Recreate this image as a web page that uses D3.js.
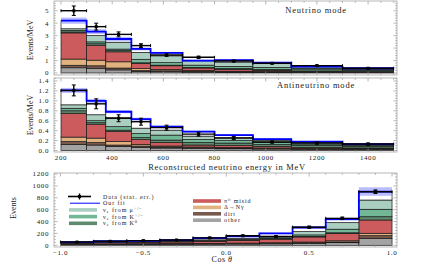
<!DOCTYPE html>
<html>
<head>
<meta charset="UTF-8">
<script src="https://cdn.jsdelivr.net/npm/d3@7/dist/d3.min.js"></script>
<style>
  body { margin: 0; background: #fff; }
  text { font-family: "Liberation Serif", "DejaVu Serif", serif; fill: #222; }
</style>
</head>
<body>
<div id="chart"></div>
<script>
// energy bins (MeV) and cos theta bins
const eBins = [200, 300, 375, 475, 550, 675, 800, 950, 1100, 1300, 1500];
const cosBins = [-1, -0.8, -0.6, -0.4, -0.2, 0, 0.2, 0.4, 0.6, 0.8, 1];

// neutrino mode, events/MeV
const nuOther = [0.42, 0.38, 0.25, 0.12, 0.10, 0.08, 0.06, 0.05, 0.04, 0.03];
const nuDirt  = [0.20, 0.20, 0.15, 0.08, 0.08, 0.06, 0.04, 0.03, 0.02, 0.02];
const nuDelta = [0.50, 0.45, 0.50, 0.15, 0.10, 0.06, 0.04, 0.03, 0.02, 0.01];
const nuPi0   = [2.10, 1.20, 0.80, 0.42, 0.30, 0.20, 0.15, 0.10, 0.06, 0.05];
const nuK0    = [0.08, 0.12, 0.10, 0.05, 0.05, 0.05, 0.07, 0.08, 0.12, 0.10];
const nuKpm   = [0.12, 0.15, 0.12, 0.28, 0.20, 0.18, 0.17, 0.16, 0.12, 0.08];
const nuMu    = [0.13, 0.50, 0.55, 0.55, 0.55, 0.35, 0.35, 0.30, 0.12, 0.07];
const nuFit   = [4.20, 3.32, 2.73, 1.93, 1.62, 1.00, 1.03, 0.83, 0.52, 0.38];
const nuFitErr = [0.25, 0.20, 0.18, 0.12, 0.08, 0.06, 0.05, 0.04, 0.03, 0.02];
const nuData  = [5.00, 3.72, 3.10, 2.20, 1.44, 1.26, 0.96, 0.78, 0.59, 0.38];
const nuDataErr = [0.38, 0.28, 0.20, 0.15, 0.10, 0.09, 0.07, 0.06, 0.05, 0.04];

// antineutrino mode, events/MeV
const antiOther = [0.12, 0.11, 0.08, 0.06, 0.05, 0.04, 0.035, 0.03, 0.025, 0.02];
const antiDirt  = [0.06, 0.05, 0.03, 0.03, 0.02, 0.02, 0.015, 0.01, 0.01, 0.01];
const antiDelta = [0.09, 0.09, 0.07, 0.03, 0.02, 0.01, 0.01, 0.01, 0.005, 0.005];
const antiPi0   = [0.48, 0.28, 0.20, 0.10, 0.07, 0.04, 0.04, 0.03, 0.02, 0.015];
const antiK0    = [0.05, 0.03, 0.03, 0.04, 0.05, 0.05, 0.05, 0.04, 0.04, 0.035];
const antiKpm   = [0.05, 0.04, 0.07, 0.08, 0.10, 0.06, 0.05, 0.04, 0.03, 0.02];
const antiMu    = [0.07, 0.12, 0.18, 0.11, 0.10, 0.07, 0.06, 0.04, 0.03, 0.02];
const antiFit   = [1.21, 1.00, 0.78, 0.63, 0.48, 0.38, 0.31, 0.23, 0.18, 0.13];
const antiFitErr = [0.05, 0.04, 0.03, 0.03, 0.02, 0.02, 0.015, 0.01, 0.01, 0.01];
const antiData  = [1.21, 0.94, 0.65, 0.58, 0.46, 0.33, 0.25, 0.17, 0.15, 0.13];
const antiDataErr = [0.11, 0.10, 0.07, 0.07, 0.05, 0.04, 0.03, 0.02, 0.02, 0.02];

// cos theta distribution, events
const cosOther = [15, 16, 17, 18, 20, 22, 25, 30, 44, 118];
const cosDirt  = [4, 5, 5, 6, 6, 7, 8, 10, 12, 44];
const cosDelta = [4, 4, 5, 5, 6, 8, 10, 15, 20, 40];
const cosPi0   = [16, 22, 25, 28, 35, 45, 60, 85, 120, 224];
const cosK0    = [3, 3, 4, 4, 5, 6, 8, 10, 15, 55];
const cosKpm   = [4, 5, 5, 6, 8, 10, 15, 25, 60, 125];
const cosMu    = [4, 5, 6, 8, 12, 17, 25, 55, 110, 156];
const cosFit   = [52, 68, 76, 86, 122, 150, 200, 300, 440, 905];
const cosFitErr = [4, 5, 5, 6, 8, 10, 12, 18, 25, 72];
const cosData  = [55, 67, 78, 89, 125, 160, 148, 305, 454, 902];
const cosDataErr = [7, 8, 9, 9, 11, 13, 12, 17, 21, 30];

// ticks
const eTicks = [200, 400, 600, 800, 1000, 1200, 1400];
const nuYTicks = [0, 1, 2, 3, 4, 5];
const antiYTicks = [0, 0.2, 0.4, 0.6, 0.8, 1.0, 1.2, 1.4];
const cosYTicks = [0, 200, 400, 600, 800, 1000, 1200];
const cosXTicks = [-1, -0.5, 0, 0.5, 1];

// stack order bottom -> top: other, dirt, delta, pi0, K0, K+-, mu+-
const compColors = ["#a3a3a3", "#7a5a4c", "#e2b27e", "#cc5b5d", "#5f8a6e", "#72b796", "#aacfc1"];

const W = 424, H = 271;
const svg = d3.select("#chart").append("svg")
    .attr("width", W).attr("height", H);

const fx0 = 54, fx1 = 397;

function drawPanel(o) {
    const x = d3.scaleLinear().domain(o.xDomain).range([fx0, fx1]);
    const y = d3.scaleLinear().domain(o.yDomain).range([o.y1, o.y0]);
    const g = svg.append("g");
    const n = o.bins.length - 1;

    // background stack
    const base = new Array(n).fill(0);
    o.comps.forEach((c, k) => {
        for (let i = 0; i < n; i++) {
            g.append("rect")
                .attr("x", x(o.bins[i])).attr("width", x(o.bins[i + 1]) - x(o.bins[i]))
                .attr("y", y(base[i] + c[i])).attr("height", y(base[i]) - y(base[i] + c[i]))
                .attr("fill", compColors[k]).attr("stroke", "#1a1a1a").attr("stroke-width", 0.7);
            base[i] += c[i];
        }
    });
    // signal on top of background
    for (let i = 0; i < n; i++) {
        if (o.fit[i] > base[i]) {
            g.append("rect")
                .attr("x", x(o.bins[i])).attr("width", x(o.bins[i + 1]) - x(o.bins[i]))
                .attr("y", y(o.fit[i])).attr("height", y(base[i]) - y(o.fit[i]))
                .attr("fill", "#fff").attr("stroke", "#1a1a1a").attr("stroke-width", 0.7);
        }
    }
    // fit band
    for (let i = 0; i < n; i++) {
        g.append("rect")
            .attr("x", x(o.bins[i])).attr("width", x(o.bins[i + 1]) - x(o.bins[i]))
            .attr("y", y(o.fit[i] + o.fitErr[i])).attr("height", y(o.fit[i] - o.fitErr[i]) - y(o.fit[i] + o.fitErr[i]))
            .attr("fill", "#7f86ff").attr("opacity", 0.55);
    }
    // fit step line
    const pts = [];
    for (let i = 0; i < n; i++) {
        pts.push([x(o.bins[i]), y(o.fit[i])], [x(o.bins[i + 1]), y(o.fit[i])]);
    }
    g.append("path").attr("d", d3.line()(pts))
        .attr("fill", "none").attr("stroke", "#0000ff").attr("stroke-width", 1.8);

    // data points
    for (let i = 0; i < n; i++) {
        const xa = x(o.bins[i]), xb = x(o.bins[i + 1]), xm = (xa + xb) / 2;
        const yv = y(o.data[i]), yt = y(o.data[i] + o.dataErr[i]), yb = y(o.data[i] - o.dataErr[i]);
        const dg = g.append("g").attr("stroke", "#000");
        dg.append("line").attr("x1", xa).attr("x2", xb).attr("y1", yv).attr("y2", yv).attr("stroke-width", 1.4);
        dg.append("line").attr("x1", xa).attr("x2", xa).attr("y1", yv - 1.5).attr("y2", yv + 1.5).attr("stroke-width", 1);
        dg.append("line").attr("x1", xb).attr("x2", xb).attr("y1", yv - 1.5).attr("y2", yv + 1.5).attr("stroke-width", 1);
        dg.append("line").attr("x1", xm).attr("x2", xm).attr("y1", yt).attr("y2", yb).attr("stroke-width", 1.4);
        dg.append("line").attr("x1", xm - 2).attr("x2", xm + 2).attr("y1", yt).attr("y2", yt).attr("stroke-width", 1);
        dg.append("line").attr("x1", xm - 2).attr("x2", xm + 2).attr("y1", yb).attr("y2", yb).attr("stroke-width", 1);
        dg.append("rect").attr("x", xm - 1.5).attr("y", yv - 1.5).attr("width", 3).attr("height", 3)
            .attr("fill", "#000").attr("stroke", "none");
    }

    // frame and ticks
    const fr = svg.append("g").attr("stroke", "#9a9a9a").attr("stroke-width", 0.7);
    fr.append("rect").attr("x", fx0).attr("y", o.y0).attr("width", fx1 - fx0).attr("height", o.y1 - o.y0)
        .attr("fill", "none");
    const xMinor = d3.range(o.xMinor[0], o.xMinor[1] + 1e-9, o.xMinor[2]);
    const yMinor = d3.range(o.yMinor[0], o.yMinor[1] + 1e-9, o.yMinor[2]);
    xMinor.forEach(v => {
        const major = o.xTicks.some(t => Math.abs(t - v) < 1e-6);
        const len = major ? 3.5 : 1.8;
        fr.append("line").attr("x1", x(v)).attr("x2", x(v)).attr("y1", o.y1).attr("y2", o.y1 - len);
        fr.append("line").attr("x1", x(v)).attr("x2", x(v)).attr("y1", o.y0).attr("y2", o.y0 + len);
    });
    yMinor.forEach(v => {
        const major = o.yTicks.some(t => Math.abs(t - v) < 1e-6);
        const len = major ? 3.5 : 1.8;
        fr.append("line").attr("x1", fx0).attr("x2", fx0 + len).attr("y1", y(v)).attr("y2", y(v));
        fr.append("line").attr("x1", fx1).attr("x2", fx1 - len).attr("y1", y(v)).attr("y2", y(v));
    });
    o.yTicks.forEach(v => {
        svg.append("text").attr("x", fx0 - 5).attr("y", y(v) + 2.4)
            .attr("text-anchor", "end").attr("font-size", 7).attr("letter-spacing", 0.6)
            .text(o.yFmt(v));
    });
    if (o.xLabels) {
        o.xTicks.forEach(v => {
            svg.append("text").attr("x", x(v)).attr("y", o.y1 + 7.5)
                .attr("text-anchor", "middle").attr("font-size", 7).attr("letter-spacing", 0.6)
                .text(o.xFmt(v));
        });
    }
    return { x, y };
}

drawPanel({
    y0: 1, y1: 75, xDomain: [172.6, 1513], yDomain: [-0.16, 5.78],
    bins: eBins, comps: [nuOther, nuDirt, nuDelta, nuPi0, nuK0, nuKpm, nuMu],
    fit: nuFit, fitErr: nuFitErr, data: nuData, dataErr: nuDataErr,
    xTicks: eTicks, xMinor: [200, 1500, 50], yTicks: nuYTicks, yMinor: [0, 5.6, 0.2],
    yFmt: d => d3.format("d")(d), xLabels: false
});
drawPanel({
    y0: 78, y1: 152, xDomain: [172.6, 1513], yDomain: [-0.03, 1.46],
    bins: eBins, comps: [antiOther, antiDirt, antiDelta, antiPi0, antiK0, antiKpm, antiMu],
    fit: antiFit, fitErr: antiFitErr, data: antiData, dataErr: antiDataErr,
    xTicks: eTicks, xMinor: [200, 1500, 50], yTicks: antiYTicks, yMinor: [0, 1.45, 0.05],
    yFmt: d => d3.format(".1f")(d), xLabels: true, xFmt: d => String(d)
});
drawPanel({
    y0: 173, y1: 247, xDomain: [-1.039, 1.03], yDomain: [-28.6, 1217],
    bins: cosBins, comps: [cosOther, cosDirt, cosDelta, cosPi0, cosK0, cosKpm, cosMu],
    fit: cosFit, fitErr: cosFitErr, data: cosData, dataErr: cosDataErr,
    xTicks: cosXTicks, xMinor: [-1, 1, 0.1], yTicks: cosYTicks, yMinor: [0, 1200, 50],
    yFmt: d => String(d), xLabels: true, xFmt: d => d3.format(".1f")(d).replace("-", "\u2212")
});

// panel titles and axis labels
svg.append("text").attr("x", 316).attr("y", 12.5).attr("text-anchor", "middle")
    .attr("font-size", 8.5).attr("letter-spacing", 0.8).text("Neutrino mode");
svg.append("text").attr("x", 316).attr("y", 88).attr("text-anchor", "middle")
    .attr("font-size", 8.5).attr("letter-spacing", 0.8).text("Antineutrino mode");
svg.append("text").attr("x", 227).attr("y", 169.5).attr("text-anchor", "middle")
    .attr("font-size", 8.5).attr("letter-spacing", 0.7).text("Reconstructed neutrino energy in MeV");
svg.append("text").attr("x", 222).attr("y", 262).attr("text-anchor", "middle")
    .attr("font-size", 8).attr("letter-spacing", 0.5)
    .html("Cos <tspan font-style='italic'>\u03b8</tspan>");
svg.append("text").attr("transform", "translate(33,40) rotate(-90)").attr("text-anchor", "middle")
    .attr("font-size", 8).text("Events/MeV");
svg.append("text").attr("transform", "translate(33,115) rotate(-90)").attr("text-anchor", "middle")
    .attr("font-size", 8).text("Events/MeV");
svg.append("text").attr("transform", "translate(16,208) rotate(-90)").attr("text-anchor", "middle")
    .attr("font-size", 8).text("Events");

// legend
const leg = svg.append("g");
const lfs = 6;
const ly = 196.5;
leg.append("line").attr("x1", 68).attr("x2", 91).attr("y1", ly).attr("y2", ly)
    .attr("stroke", "#000").attr("stroke-width", 1.6);
leg.append("line").attr("x1", 79.5).attr("x2", 79.5).attr("y1", ly - 3).attr("y2", ly + 3)
    .attr("stroke", "#000").attr("stroke-width", 1.4);
leg.append("rect").attr("x", 78).attr("y", ly - 1.5).attr("width", 3).attr("height", 3).attr("fill", "#000");
leg.append("text").attr("x", 103).attr("y", ly + 2).attr("font-size", lfs).attr("letter-spacing", 0.9)
    .text("Data (stat. err.)");
leg.append("line").attr("x1", 70).attr("x2", 100).attr("y1", 203.2).attr("y2", 203.2)
    .attr("stroke", "#0000ff").attr("stroke-width", 1);
leg.append("text").attr("x", 103).attr("y", 205.2).attr("font-size", lfs).attr("letter-spacing", 0.9)
    .text("Our fit");

const leftItems = [
    { c: compColors[6], y: 209.9, src: "\u03bc", sup: "+/\u2212" },
    { c: compColors[5], y: 216.6, src: "K", sup: "+/\u2212" },
    { c: compColors[4], y: 223.3, src: "K", sup: "0" }
];
leftItems.forEach(d => {
    leg.append("rect").attr("x", 69).attr("y", d.y - 1.8).attr("width", 28).attr("height", 3.6).attr("fill", d.c);
    const t = leg.append("text").attr("x", 103).attr("y", d.y + 2).attr("font-size", lfs).attr("letter-spacing", 0.9);
    t.append("tspan").text("\u03bd");
    t.append("tspan").attr("font-size", 4.5).attr("dy", 1).text("e");
    t.append("tspan").attr("dy", -1).text(" from " + d.src);
    t.append("tspan").attr("font-size", 4.5).attr("dy", -2).text(d.sup);
});

const rightItems = [
    { c: compColors[3], y: 201, t: "\u03c0\u2070 misid" },
    { c: compColors[2], y: 207.4, t: "\u0394\u2192N\u03b3" },
    { c: compColors[1], y: 213.8, t: "dirt" },
    { c: compColors[0], y: 220.2, t: "other" }
];
rightItems.forEach(d => {
    leg.append("rect").attr("x", 193).attr("y", d.y - 1.8).attr("width", 28).attr("height", 3.6).attr("fill", d.c);
    leg.append("text").attr("x", 224).attr("y", d.y + 2).attr("font-size", lfs).attr("letter-spacing", 0.9)
        .text(d.t);
});
</script>
</body>
</html>
